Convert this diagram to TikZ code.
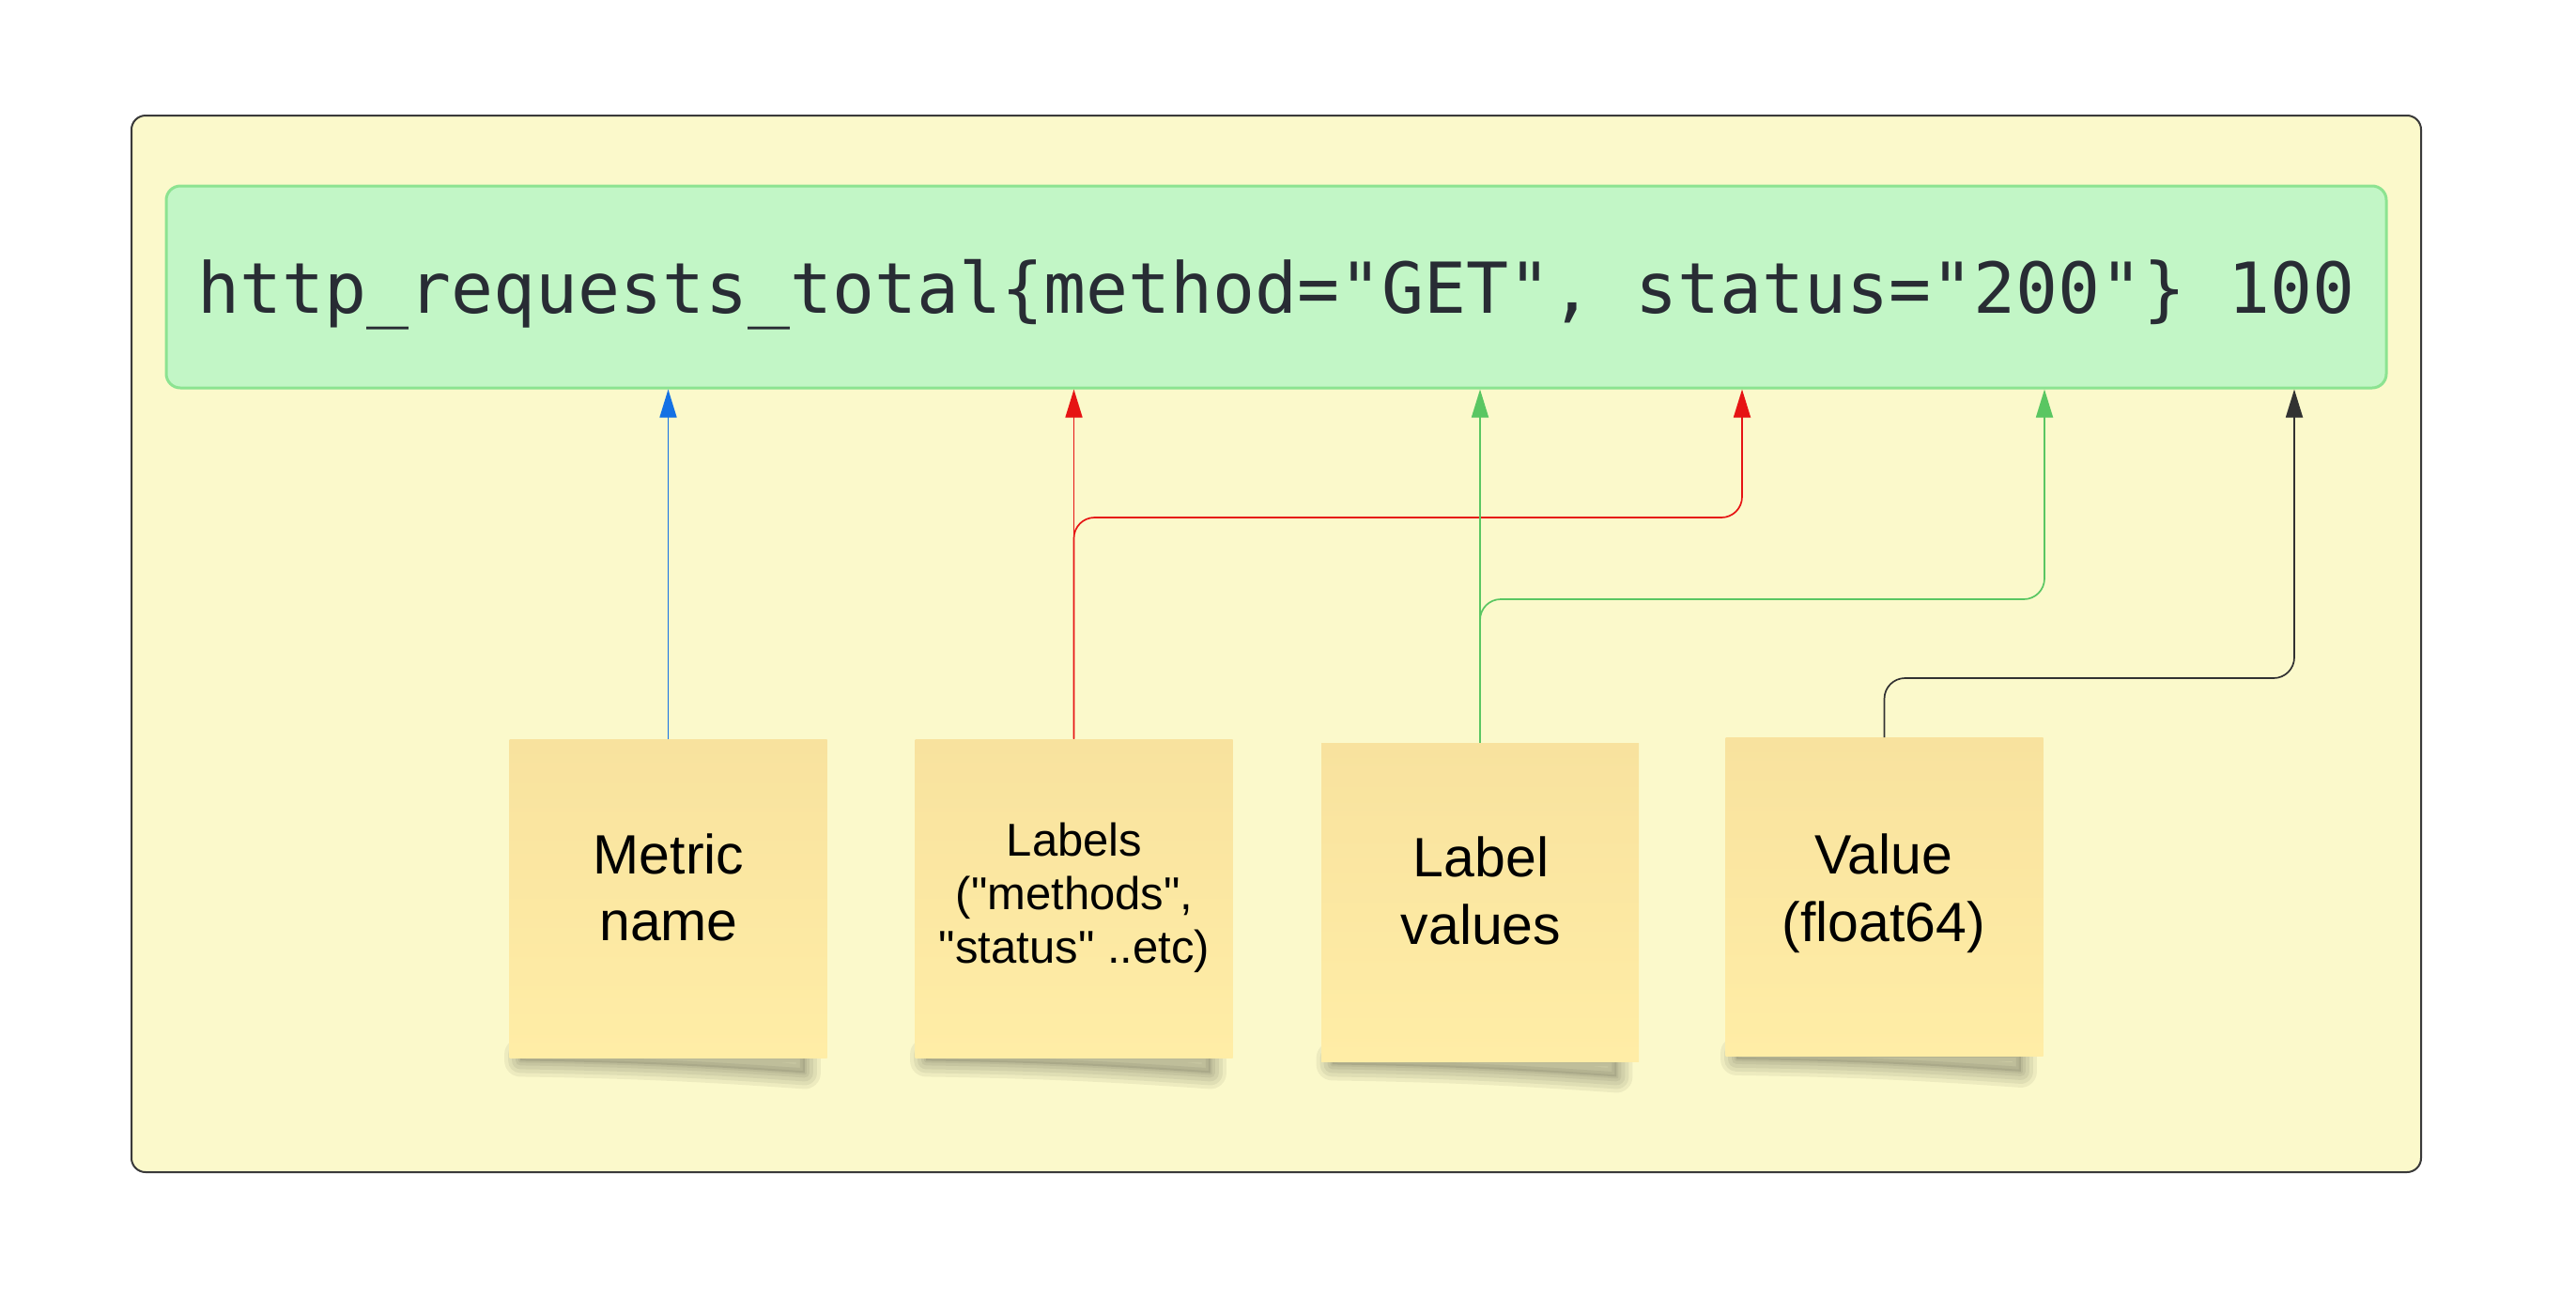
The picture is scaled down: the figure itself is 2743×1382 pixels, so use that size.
\documentclass[tikz,border=0pt]{standalone}
\usepackage{fontspec}
\setmainfont{Liberation Sans}
\newfontfamily\codefont{DejaVu Sans Mono}
\usetikzlibrary{arrows.meta,calc}
\pgfdeclarelayer{back}
\pgfdeclarelayer{shade}
\pgfsetlayers{back,shade,main}
\definecolor{paper}{RGB}{251,249,203}
\definecolor{frameline}{RGB}{58,58,58}
\definecolor{codefill}{RGB}{194,246,198}
\definecolor{codeline}{RGB}{140,227,145}
\definecolor{codeink}{RGB}{40,44,52}
\definecolor{stickytop}{RGB}{248,226,158}
\definecolor{stickybot}{RGB}{255,237,166}
\definecolor{linkblue}{RGB}{20,113,228}
\definecolor{linkred}{RGB}{230,20,20}
\definecolor{linkgreen}{RGB}{90,198,98}
\definecolor{linkdark}{RGB}{50,50,50}
\newcommand{\dq}{\textquotedbl}
\newcommand{\stickyshadow}[1]{%
  \foreach \w in {34,26,18,10,4}{%
    \draw[black, draw opacity=0.055, line width=\w*0.5pt, line join=round]
      ($(#1.south west)+(12,-4)$) -- ($(#1.south east)+(-24,-4)$) -- ($(#1.south east)+(-24,16)$)
      .. controls ($(#1.south east)+(-110,10)$) and ($(#1.south west)+(150,5)$) .. ($(#1.south west)+(12,3)$) -- cycle;
  }%
  \fill[black, fill opacity=0.09]
      ($(#1.south west)+(12,-4)$) -- ($(#1.south east)+(-24,-4)$) -- ($(#1.south east)+(-24,16)$)
      .. controls ($(#1.south east)+(-110,10)$) and ($(#1.south west)+(150,5)$) .. ($(#1.south west)+(12,3)$) -- cycle;
}
\begin{document}
\begin{tikzpicture}[x=0.5pt,y=-0.5pt,
  frame/.style={draw=frameline, line width=1pt, fill=paper, rounded corners=7.5pt,
    minimum width=1219pt, minimum height=562.5pt, inner sep=0pt},
  codebox/.style={draw=codeline, line width=1.5pt, fill=codefill, rounded corners=7.5pt,
    minimum width=1182pt, minimum height=107.5pt, inner sep=0pt, text=codeink,
    font=\fontsize{37.4pt}{44pt}\selectfont\codefont, text height=32.8pt, text depth=5pt},
  sticky/.style={minimum width=169pt, minimum height=169.5pt, inner sep=0pt,
    top color=stickytop, bottom color=stickybot},
  bigtext/.style={align=center, inner sep=0pt, text=black,
    font=\fontsize{29.5pt}{35.85pt}\selectfont},
  smalltext/.style={align=center, inner sep=0pt, text=black,
    font=\fontsize{24.5pt}{28.35pt}\selectfont},
  link/.style={line width=0.85pt, -{Triangle[length=15pt,width=9pt]}},
  elbow/.style={link, rounded corners=11pt}]
\useasboundingbox (0,0) rectangle (2743,1382);
\begin{pgfonlayer}{back}
  \fill[white] (0,0) rectangle (2743,1382);
  \node[frame] (frame) at (1359,685.5) {};
\end{pgfonlayer}

\node[codebox] (code) at (1359,305.5) {\frenchspacing http\_requests\_total\{method="GET", status="200"\} 100};

\node[sticky] (metric) at (711.5,956.5) {};
\node[sticky] (labels) at (1143.5,956.5) {};
\node[sticky] (lvalues) at (1576,960.5) {};
\node[sticky] (value) at (2006.5,955) {};

\node[bigtext] (metrictxt) at (712,945) {Metric\\name};
\node[smalltext] (labelstxt) at (1144,956) {Labels\\(\dq methods\dq,\\\dq status\dq{} ..etc)};
\node[bigtext] (lvaluestxt) at (1577,948.5) {Label\\values};
\node[bigtext] (valuetxt) at (2006,951) {Value\\(float64)};

\begin{pgfonlayer}{shade}
  \stickyshadow{metric}
  \stickyshadow{labels}
  \stickyshadow{lvalues}
  \stickyshadow{value}
\end{pgfonlayer}

\coordinate (rbend) at (1855,551);
\coordinate (gbend) at (2177,638);
\coordinate (kbend) at (2443,722);

\draw[link, linkblue] (metric.north) -- (metric.north |- code.south);
\draw[link, linkred] (labels.north) -- (labels.north |- code.south);
\draw[elbow, linkred] (labels.north) |- (rbend) -- (rbend |- code.south);
\draw[link, linkgreen] (lvalues.north) -- (lvalues.north |- code.south);
\draw[elbow, linkgreen] (lvalues.north) |- (gbend) -- (gbend |- code.south);
\draw[elbow, linkdark] (value.north) |- (kbend) -- (kbend |- code.south);
\end{tikzpicture}
\end{document}
